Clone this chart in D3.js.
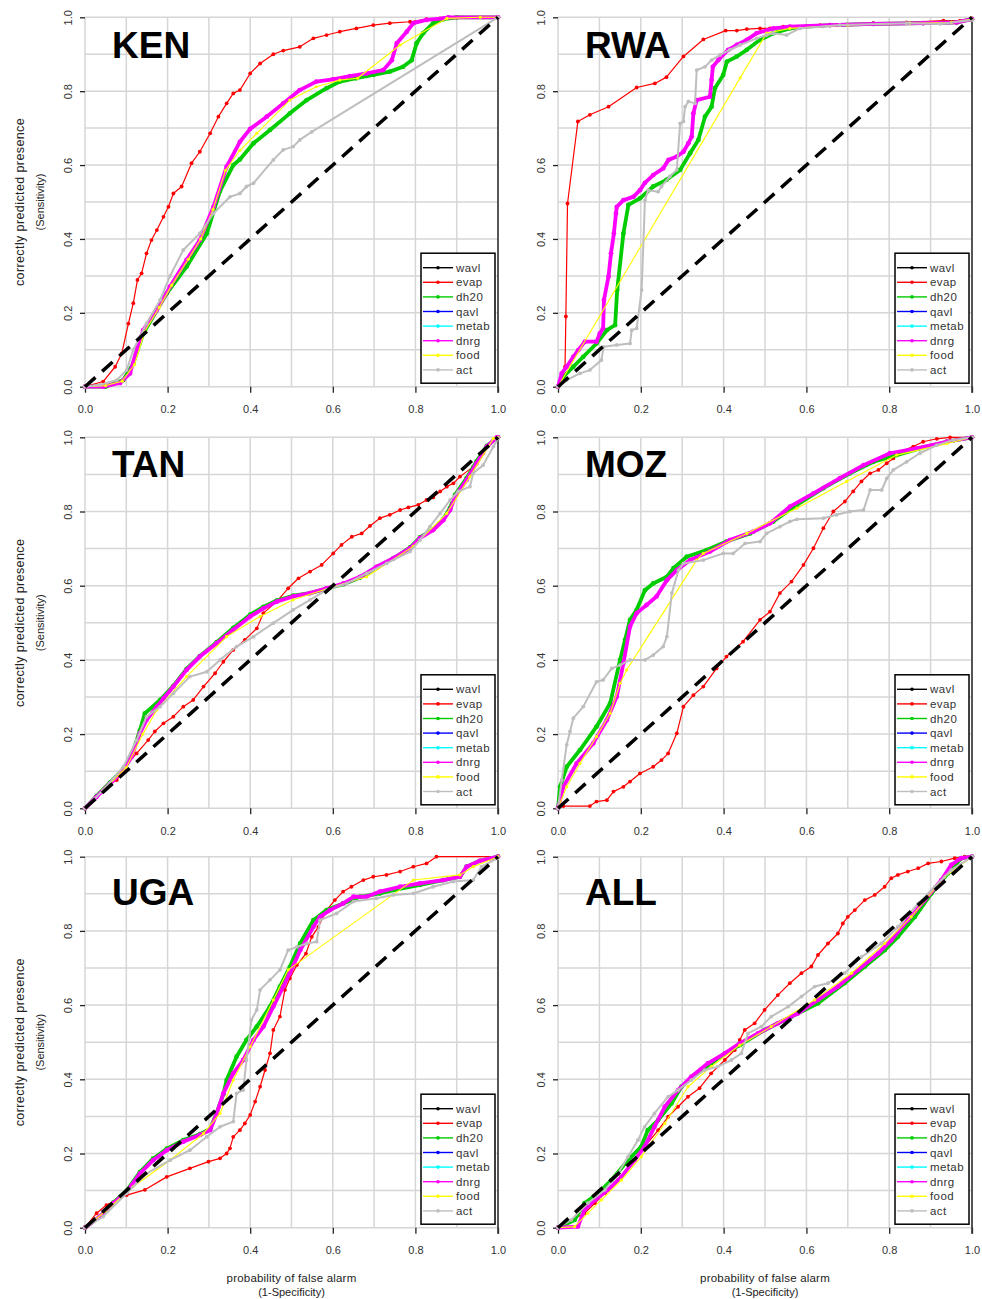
<!DOCTYPE html>
<html>
<head>
<meta charset="utf-8">
<script src="https://cdn.jsdelivr.net/npm/d3@7"></script>
<style>
  body { margin: 0; background: #fff; }
  text { font-family: "Liberation Sans", Arial, sans-serif; }
</style>
</head>
<body>
<svg id="chart" width="982" height="1299"></svg>
<script>
"use strict";

// series in legend / drawing order
var seriesNames = ["wavl", "evap", "dh20", "qavl", "metab", "dnrg", "food", "act"];
var seriesColors = ["#000000", "#ff0000", "#00cd00", "#0000ff", "#00ffff", "#ff00ff", "#ffff00", "#bebebe"];
var tickValues = [0, 0.2, 0.4, 0.6, 0.8, 1.0];
var panelNames = ["KEN", "RWA", "TAN", "MOZ", "UGA", "ALL"];

// ---- KEN ----
var kenEvap = [[0,0],[0.044,0.014],[0.073,0.054],[0.089,0.09],[0.105,0.171],[0.117,0.226],[0.127,0.289],[0.137,0.307],[0.149,0.361],[0.161,0.397],[0.174,0.424],[0.19,0.46],[0.202,0.487],[0.214,0.523],[0.234,0.542],[0.258,0.605],[0.278,0.636],[0.303,0.686],[0.323,0.731],[0.343,0.767],[0.359,0.794],[0.375,0.803],[0.4,0.848],[0.424,0.875],[0.456,0.9],[0.48,0.91],[0.52,0.92],[0.553,0.943],[0.585,0.952],[0.617,0.961],[0.657,0.97],[0.698,0.979],[0.738,0.984],[0.787,0.988],[0.827,0.995],[0.86,0.997],[0.9,1],[1,1]];
var kenDh20 = [[0,0],[0.05,0],[0.093,0.018],[0.117,0.063],[0.141,0.144],[0.198,0.253],[0.246,0.325],[0.295,0.415],[0.327,0.53],[0.359,0.6],[0.375,0.615],[0.408,0.659],[0.448,0.695],[0.496,0.74],[0.537,0.776],[0.585,0.808],[0.617,0.826],[0.657,0.835],[0.698,0.844],[0.738,0.853],[0.77,0.866],[0.791,0.884],[0.803,0.93],[0.819,0.957],[0.843,0.984],[0.868,0.995],[0.9,1],[1,1]];
var kenDnrg = [[0,0],[0.044,0],[0.085,0.01],[0.109,0.036],[0.125,0.1],[0.141,0.153],[0.174,0.208],[0.206,0.271],[0.246,0.343],[0.278,0.397],[0.311,0.487],[0.343,0.596],[0.375,0.663],[0.4,0.698],[0.44,0.731],[0.48,0.767],[0.52,0.803],[0.56,0.826],[0.6,0.832],[0.642,0.841],[0.682,0.848],[0.722,0.857],[0.743,0.884],[0.755,0.93],[0.779,0.961],[0.795,0.984],[0.827,0.993],[0.868,0.997],[0.88,1],[1,1]];
var kenFood = [[0,0],[0.05,0.003],[0.09,0.015],[0.12,0.06],[0.145,0.15],[0.18,0.215],[0.21,0.275],[0.25,0.345],[0.28,0.4],[0.31,0.48],[0.34,0.585],[0.375,0.64],[0.416,0.686],[0.496,0.776],[0.56,0.812],[0.617,0.83],[0.66,0.835],[0.763,0.925],[0.876,0.997],[0.957,1],[1,1]];
var kenAct = [[0,0],[0.036,0.005],[0.077,0.018],[0.101,0.045],[0.117,0.1],[0.149,0.171],[0.182,0.235],[0.206,0.3],[0.238,0.37],[0.278,0.415],[0.311,0.469],[0.351,0.514],[0.375,0.523],[0.391,0.542],[0.408,0.551],[0.456,0.614],[0.48,0.641],[0.504,0.65],[0.52,0.668],[0.549,0.69],[1,1]];

// ---- RWA ----
var rwaEvap = [[0,0],[0.017,0.054],[0.019,0.19],[0.023,0.496],[0.048,0.718],[0.077,0.736],[0.122,0.758],[0.19,0.81],[0.234,0.821],[0.262,0.838],[0.303,0.894],[0.351,0.94],[0.405,0.964],[0.432,0.964],[0.456,0.968],[0.488,0.97],[0.512,0.97],[0.544,0.975],[0.6,0.977],[0.633,0.979],[0.681,0.979],[0.762,0.984],[0.842,0.986],[0.931,0.991],[0.971,0.991],[1,0.997]];
var rwaDh20 = [[0,0],[0.013,0.027],[0.037,0.054],[0.061,0.081],[0.093,0.117],[0.118,0.153],[0.138,0.167],[0.143,0.262],[0.158,0.415],[0.17,0.492],[0.198,0.51],[0.23,0.542],[0.262,0.56],[0.295,0.587],[0.319,0.632],[0.339,0.668],[0.355,0.731],[0.371,0.758],[0.379,0.808],[0.399,0.844],[0.408,0.88],[0.432,0.894],[0.456,0.912],[0.488,0.939],[0.52,0.957],[0.56,0.97],[0.6,0.975],[0.657,0.979],[0.762,0.982],[0.882,0.984],[0.963,0.986],[1,0.995]];
var rwaDnrg = [[0,0],[0.009,0.036],[0.021,0.054],[0.037,0.081],[0.049,0.099],[0.065,0.122],[0.093,0.122],[0.101,0.144],[0.109,0.158],[0.111,0.235],[0.122,0.298],[0.128,0.361],[0.135,0.415],[0.14,0.469],[0.142,0.487],[0.158,0.505],[0.182,0.514],[0.198,0.532],[0.21,0.552],[0.23,0.573],[0.254,0.591],[0.267,0.614],[0.287,0.623],[0.303,0.636],[0.315,0.659],[0.323,0.677],[0.327,0.74],[0.335,0.776],[0.367,0.785],[0.371,0.83],[0.374,0.866],[0.387,0.884],[0.411,0.912],[0.432,0.925],[0.456,0.939],[0.48,0.957],[0.52,0.97],[0.56,0.975],[0.657,0.979],[0.762,0.982],[0.882,0.984],[0.963,0.986],[1,0.995]];
var rwaFood = [[0,0],[0.44,0.836],[0.504,0.957],[0.56,0.97],[0.7,0.979],[0.85,0.984],[0.95,0.986],[1,0.995]];
var rwaAct = [[0,0],[0.021,0.018],[0.053,0.036],[0.077,0.045],[0.105,0.072],[0.11,0.108],[0.142,0.113],[0.174,0.117],[0.178,0.153],[0.19,0.158],[0.202,0.262],[0.21,0.505],[0.218,0.532],[0.242,0.528],[0.25,0.542],[0.27,0.569],[0.287,0.587],[0.295,0.713],[0.303,0.718],[0.307,0.758],[0.315,0.772],[0.331,0.767],[0.335,0.857],[0.355,0.866],[0.371,0.884],[0.391,0.898],[0.415,0.912],[0.44,0.925],[0.48,0.943],[0.504,0.952],[0.52,0.957],[0.552,0.952],[0.584,0.97],[0.681,0.979],[0.842,0.984],[0.923,0.982],[1,0.993]];

// ---- TAN ----
var tanEvap = [[0,0],[0.02,0.022],[0.052,0.058],[0.077,0.076],[0.097,0.112],[0.125,0.148],[0.153,0.184],[0.169,0.207],[0.19,0.229],[0.214,0.247],[0.238,0.274],[0.262,0.292],[0.287,0.328],[0.315,0.364],[0.335,0.395],[0.359,0.427],[0.387,0.454],[0.416,0.485],[0.432,0.526],[0.464,0.557],[0.492,0.593],[0.517,0.62],[0.545,0.638],[0.573,0.656],[0.601,0.687],[0.621,0.71],[0.646,0.732],[0.67,0.741],[0.69,0.761],[0.714,0.782],[0.738,0.791],[0.763,0.804],[0.783,0.811],[0.807,0.818],[0.827,0.831],[0.843,0.838],[0.86,0.854],[0.876,0.867],[0.892,0.876],[0.908,0.894],[0.94,0.921],[0.964,0.957],[0.989,0.993],[1,1]];
var tanDh20 = [[0,0],[0.028,0.033],[0.061,0.07],[0.093,0.106],[0.113,0.142],[0.133,0.21],[0.145,0.256],[0.182,0.292],[0.214,0.33],[0.246,0.376],[0.278,0.41],[0.319,0.448],[0.359,0.486],[0.4,0.522],[0.432,0.543],[0.464,0.56],[0.504,0.573],[0.545,0.58],[0.585,0.592],[0.626,0.604],[0.666,0.622],[0.706,0.65],[0.747,0.674],[0.787,0.703],[0.811,0.73],[0.843,0.752],[0.868,0.78],[0.884,0.81],[0.896,0.845],[0.924,0.89],[0.948,0.935],[0.973,0.977],[1,1]];
var tanDnrg = [[0,0],[0.028,0.031],[0.061,0.067],[0.093,0.103],[0.113,0.139],[0.133,0.202],[0.149,0.238],[0.174,0.274],[0.19,0.296],[0.214,0.328],[0.246,0.373],[0.278,0.409],[0.319,0.445],[0.359,0.481],[0.4,0.517],[0.432,0.539],[0.464,0.557],[0.504,0.571],[0.545,0.58],[0.585,0.593],[0.626,0.606],[0.666,0.624],[0.706,0.651],[0.747,0.674],[0.787,0.701],[0.811,0.728],[0.843,0.75],[0.868,0.777],[0.884,0.804],[0.896,0.84],[0.924,0.885],[0.948,0.93],[0.973,0.975],[0.997,1],[1,1]];
var tanFood = [[0,0],[0.05,0.055],[0.1,0.11],[0.14,0.2],[0.174,0.265],[0.246,0.355],[0.343,0.463],[0.424,0.517],[0.504,0.562],[0.601,0.597],[0.682,0.624],[0.795,0.706],[0.876,0.795],[0.932,0.894],[0.989,0.997],[1,1]];
var tanAct = [[0,0],[0.044,0.049],[0.093,0.112],[0.125,0.184],[0.149,0.247],[0.182,0.274],[0.214,0.31],[0.254,0.355],[0.295,0.368],[0.327,0.4],[0.367,0.436],[0.408,0.463],[0.456,0.499],[0.504,0.535],[0.545,0.562],[0.585,0.589],[0.634,0.606],[0.682,0.633],[0.73,0.66],[0.787,0.692],[0.811,0.723],[0.835,0.759],[0.86,0.795],[0.884,0.831],[0.904,0.854],[0.932,0.867],[0.94,0.903],[0.964,0.925],[0.989,0.975],[1,0.997]];

// ---- MOZ ----
var mozEvap = [[0,0],[0.013,0.006],[0.077,0.006],[0.093,0.018],[0.118,0.022],[0.134,0.045],[0.158,0.058],[0.174,0.072],[0.198,0.094],[0.23,0.112],[0.25,0.13],[0.266,0.148],[0.287,0.202],[0.303,0.274],[0.327,0.305],[0.351,0.328],[0.383,0.377],[0.407,0.409],[0.447,0.449],[0.488,0.508],[0.512,0.53],[0.536,0.58],[0.564,0.611],[0.593,0.656],[0.617,0.701],[0.641,0.755],[0.665,0.8],[0.693,0.827],[0.713,0.854],[0.733,0.881],[0.754,0.903],[0.774,0.912],[0.794,0.93],[0.81,0.943],[0.826,0.961],[0.858,0.975],[0.882,0.988],[0.915,0.996],[0.947,1],[1,1]];
var mozDh20 = [[0,0],[0.005,0.058],[0.021,0.112],[0.053,0.157],[0.093,0.22],[0.126,0.283],[0.15,0.4],[0.162,0.454],[0.174,0.508],[0.19,0.535],[0.21,0.588],[0.23,0.606],[0.263,0.624],[0.279,0.647],[0.311,0.678],[0.359,0.696],[0.407,0.719],[0.464,0.741],[0.52,0.773],[0.577,0.818],[0.641,0.863],[0.705,0.903],[0.762,0.934],[0.818,0.952],[0.874,0.97],[0.939,0.988],[1,1]];
var mozDnrg = [[0,0],[0.013,0.058],[0.045,0.121],[0.085,0.175],[0.118,0.238],[0.142,0.301],[0.158,0.391],[0.174,0.49],[0.19,0.526],[0.214,0.548],[0.238,0.571],[0.263,0.615],[0.287,0.642],[0.319,0.669],[0.367,0.692],[0.415,0.723],[0.472,0.746],[0.512,0.768],[0.56,0.813],[0.617,0.849],[0.681,0.89],[0.738,0.925],[0.802,0.957],[0.866,0.97],[0.939,0.988],[1,1]];
var mozFood = [[0,0],[0.021,0.058],[0.053,0.121],[0.093,0.193],[0.126,0.256],[0.15,0.337],[0.166,0.373],[0.335,0.669],[0.351,0.687],[0.456,0.741],[0.577,0.809],[0.697,0.881],[0.818,0.952],[0.939,0.983],[1,1]];
var mozAct = [[0,0],[0.009,0.076],[0.021,0.171],[0.029,0.207],[0.037,0.243],[0.061,0.274],[0.093,0.341],[0.109,0.346],[0.13,0.377],[0.15,0.386],[0.174,0.4],[0.21,0.4],[0.23,0.413],[0.254,0.436],[0.263,0.463],[0.275,0.58],[0.291,0.642],[0.303,0.66],[0.351,0.669],[0.399,0.687],[0.423,0.687],[0.452,0.714],[0.488,0.719],[0.504,0.741],[0.536,0.759],[0.56,0.773],[0.577,0.779],[0.641,0.782],[0.673,0.791],[0.705,0.8],[0.738,0.804],[0.754,0.858],[0.782,0.858],[0.794,0.889],[0.81,0.912],[0.842,0.934],[0.874,0.957],[0.915,0.979],[0.955,0.993],[1,1]];

// ---- UGA ----
var ugaEvap = [[0,0],[0.028,0.039],[0.052,0.061],[0.101,0.088],[0.145,0.102],[0.198,0.137],[0.254,0.16],[0.299,0.178],[0.327,0.187],[0.343,0.2],[0.351,0.214],[0.359,0.245],[0.375,0.263],[0.387,0.281],[0.4,0.304],[0.412,0.34],[0.424,0.38],[0.436,0.425],[0.448,0.47],[0.456,0.533],[0.472,0.569],[0.484,0.641],[0.496,0.672],[0.513,0.708],[0.535,0.739],[0.549,0.784],[0.565,0.811],[0.585,0.856],[0.605,0.883],[0.625,0.906],[0.645,0.919],[0.674,0.937],[0.698,0.946],[0.73,0.951],[0.763,0.96],[0.795,0.973],[0.827,0.982],[0.851,1],[1,1]];
var ugaDh20 = [[0,0],[0.036,0.03],[0.069,0.068],[0.101,0.1],[0.133,0.15],[0.165,0.186],[0.198,0.213],[0.238,0.236],[0.278,0.252],[0.303,0.266],[0.319,0.31],[0.335,0.36],[0.343,0.398],[0.367,0.461],[0.391,0.506],[0.416,0.542],[0.448,0.596],[0.472,0.65],[0.496,0.703],[0.521,0.766],[0.553,0.829],[0.585,0.856],[0.625,0.874],[0.666,0.892],[0.714,0.901],[0.747,0.91],[0.811,0.924],[0.868,0.937],[0.908,0.946],[0.924,0.973],[0.956,0.989],[1,1]];
var ugaDnrg = [[0,0],[0.036,0.03],[0.069,0.066],[0.101,0.097],[0.133,0.146],[0.165,0.182],[0.198,0.209],[0.238,0.232],[0.278,0.25],[0.303,0.263],[0.319,0.308],[0.335,0.362],[0.359,0.416],[0.383,0.452],[0.408,0.506],[0.432,0.542],[0.456,0.596],[0.48,0.65],[0.496,0.686],[0.521,0.748],[0.553,0.811],[0.569,0.838],[0.593,0.856],[0.625,0.874],[0.65,0.892],[0.682,0.892],[0.714,0.906],[0.763,0.919],[0.811,0.928],[0.868,0.937],[0.908,0.946],[0.924,0.973],[0.956,0.989],[1,1]];
var ugaFood = [[0,0],[0.05,0.045],[0.117,0.111],[0.206,0.182],[0.287,0.254],[0.327,0.308],[0.359,0.398],[0.4,0.488],[0.456,0.614],[0.492,0.695],[0.795,0.937],[0.908,0.951],[0.94,0.973],[1,1]];
var ugaAct = [[0,0],[0.044,0.03],[0.101,0.093],[0.149,0.146],[0.206,0.182],[0.254,0.209],[0.295,0.245],[0.327,0.272],[0.359,0.286],[0.367,0.362],[0.383,0.371],[0.391,0.452],[0.403,0.56],[0.416,0.587],[0.424,0.641],[0.448,0.668],[0.472,0.695],[0.492,0.748],[0.513,0.757],[0.537,0.766],[0.561,0.771],[0.569,0.829],[0.609,0.847],[0.65,0.879],[0.706,0.888],[0.747,0.897],[0.795,0.901],[0.843,0.919],[0.892,0.933],[0.94,0.937],[0.96,0.973],[1,0.996]];

// ---- ALL ----
var allEvap = [[0,0],[0.016,0.012],[0.04,0.025],[0.064,0.039],[0.089,0.066],[0.113,0.093],[0.145,0.128],[0.177,0.173],[0.209,0.218],[0.242,0.263],[0.266,0.299],[0.29,0.326],[0.314,0.353],[0.342,0.376],[0.37,0.416],[0.403,0.452],[0.427,0.479],[0.439,0.506],[0.451,0.533],[0.475,0.551],[0.499,0.587],[0.531,0.627],[0.56,0.659],[0.588,0.686],[0.612,0.704],[0.628,0.735],[0.652,0.766],[0.676,0.793],[0.688,0.82],[0.7,0.838],[0.717,0.856],[0.741,0.883],[0.765,0.897],[0.789,0.919],[0.805,0.942],[0.821,0.951],[0.845,0.96],[0.87,0.969],[0.894,0.982],[0.926,0.987],[0.958,0.996],[0.982,1],[1,1]];
var allDh20 = [[0,0],[0.04,0.021],[0.064,0.066],[0.097,0.093],[0.129,0.128],[0.169,0.182],[0.201,0.218],[0.217,0.263],[0.242,0.29],[0.274,0.335],[0.298,0.38],[0.33,0.412],[0.37,0.443],[0.403,0.47],[0.439,0.492],[0.499,0.533],[0.564,0.569],[0.628,0.605],[0.692,0.659],[0.741,0.704],[0.789,0.748],[0.821,0.784],[0.862,0.838],[0.902,0.901],[0.942,0.955],[0.974,0.996],[1,1]];
var allDnrg = [[0,0],[0.048,0.003],[0.064,0.048],[0.089,0.075],[0.121,0.102],[0.153,0.137],[0.185,0.182],[0.209,0.218],[0.233,0.272],[0.258,0.326],[0.29,0.371],[0.322,0.407],[0.362,0.443],[0.403,0.47],[0.439,0.497],[0.483,0.524],[0.531,0.551],[0.58,0.578],[0.628,0.614],[0.676,0.65],[0.725,0.695],[0.773,0.739],[0.805,0.775],[0.845,0.829],[0.886,0.883],[0.926,0.937],[0.95,0.978],[0.974,0.996],[1,1]];
var allFood = [[0,0],[0.04,0.003],[0.072,0.039],[0.105,0.075],[0.153,0.128],[0.201,0.191],[0.258,0.281],[0.314,0.38],[0.37,0.434],[0.439,0.492],[0.515,0.542],[0.62,0.614],[0.709,0.686],[0.789,0.766],[0.853,0.838],[0.934,0.946],[1,1]];
var allAct = [[0,0],[0.032,0.021],[0.072,0.066],[0.113,0.102],[0.145,0.146],[0.169,0.191],[0.193,0.236],[0.209,0.272],[0.233,0.308],[0.266,0.353],[0.29,0.371],[0.322,0.398],[0.354,0.425],[0.386,0.434],[0.419,0.452],[0.443,0.47],[0.459,0.524],[0.491,0.542],[0.515,0.569],[0.556,0.596],[0.588,0.623],[0.62,0.65],[0.652,0.659],[0.692,0.686],[0.733,0.73],[0.781,0.766],[0.821,0.811],[0.87,0.874],[0.91,0.919],[0.95,0.964],[1,1]];

// wavl, qavl and metab lie exactly under dnrg in every panel
var panelSeries = [
    { wavl: kenDnrg, evap: kenEvap, dh20: kenDh20, qavl: kenDnrg, metab: kenDnrg, dnrg: kenDnrg, food: kenFood, act: kenAct },
    { wavl: rwaDnrg, evap: rwaEvap, dh20: rwaDh20, qavl: rwaDnrg, metab: rwaDnrg, dnrg: rwaDnrg, food: rwaFood, act: rwaAct },
    { wavl: tanDnrg, evap: tanEvap, dh20: tanDh20, qavl: tanDnrg, metab: tanDnrg, dnrg: tanDnrg, food: tanFood, act: tanAct },
    { wavl: mozDnrg, evap: mozEvap, dh20: mozDh20, qavl: mozDnrg, metab: mozDnrg, dnrg: mozDnrg, food: mozFood, act: mozAct },
    { wavl: ugaDnrg, evap: ugaEvap, dh20: ugaDh20, qavl: ugaDnrg, metab: ugaDnrg, dnrg: ugaDnrg, food: ugaFood, act: ugaAct },
    { wavl: allDnrg, evap: allEvap, dh20: allDh20, qavl: allDnrg, metab: allDnrg, dnrg: allDnrg, food: allFood, act: allAct }
];

// line width / marker radius per series
var lineStyle = {
    wavl: [1, 1.5], evap: [1.2, 1.9], dh20: [3.8, 2.4], qavl: [1, 1.5],
    metab: [1, 1.5], dnrg: [3.8, 2.4], food: [1.1, 1.6], act: [2, 1.9]
};

// panel frames (pixels)
var colX = [[85, 498], [558, 972]];
var rowY = [[386.7, 17.3], [808.3, 437.3], [1227.7, 856.7]];
var titleOffset = [41, 40, 48];

var svg = d3.select("#chart");
var fmt = d3.format(".1f");

panelNames.forEach(function(name, i) {
    var col = i % 2, row = Math.floor(i / 2);
    var x = d3.scaleLinear().domain([0, 1]).range(colX[col]);
    var y = d3.scaleLinear().domain([0, 1]).range(rowY[row]);
    var g = svg.append("g");

    // grid
    var grid = d3.range(0, 11).map(function(k) { return k / 10; });
    g.selectAll(".gx").data(grid).enter().append("line")
        .attr("x1", function(d) { return x(d); }).attr("x2", function(d) { return x(d); })
        .attr("y1", y(0)).attr("y2", y(1))
        .attr("stroke", "#d6d6d6").attr("stroke-width", 1.5);
    g.selectAll(".gy").data(grid).enter().append("line")
        .attr("y1", function(d) { return y(d); }).attr("y2", function(d) { return y(d); })
        .attr("x1", x(0)).attr("x2", x(1))
        .attr("stroke", "#d6d6d6").attr("stroke-width", 1.5);

    // bottom axis
    var xa = g.append("g").attr("transform", "translate(0," + y(0) + ")")
        .call(d3.axisBottom(x).tickValues(tickValues).tickFormat(fmt).tickSize(6).tickPadding(13));
    xa.select(".domain").remove();
    xa.selectAll("line").attr("stroke", "#222").attr("stroke-width", 1.3);
    xa.selectAll("text").attr("font-size", 11).attr("fill", "#333")
        .attr("font-family", "Liberation Sans, Arial, sans-serif");

    // left axis, labels turned
    var ya = g.append("g").attr("transform", "translate(" + x(0) + ",0)")
        .call(d3.axisLeft(y).tickValues(tickValues).tickFormat(fmt).tickSize(5));
    ya.select(".domain").remove();
    ya.selectAll("line").attr("stroke", "#222").attr("stroke-width", 1.3);
    ya.selectAll("text").attr("transform", "rotate(-90)")
        .attr("x", 0).attr("y", -17).attr("dy", "0.35em")
        .attr("text-anchor", "middle")
        .attr("font-size", 11).attr("fill", "#333")
        .attr("font-family", "Liberation Sans, Arial, sans-serif");

    // right frame line
    g.append("line")
        .attr("x1", x(1)).attr("x2", x(1)).attr("y1", y(1)).attr("y2", y(0) + 6)
        .attr("stroke", "#333").attr("stroke-width", 1.6);

    // curves
    var line = d3.line().x(function(d) { return x(d[0]); }).y(function(d) { return y(d[1]); });
    seriesNames.forEach(function(s, k) {
        var pts = panelSeries[i][s];
        g.append("path").datum(pts).attr("d", line)
            .attr("fill", "none").attr("stroke", seriesColors[k])
            .attr("stroke-width", lineStyle[s][0]).attr("stroke-linejoin", "round");
        g.selectAll(".m" + s).data(pts).enter().append("circle")
            .attr("cx", function(d) { return x(d[0]); })
            .attr("cy", function(d) { return y(d[1]); })
            .attr("r", lineStyle[s][1]).attr("fill", seriesColors[k]);
    });

    // reference diagonal
    g.append("line")
        .attr("x1", x(0)).attr("y1", y(0)).attr("x2", x(1)).attr("y2", y(1))
        .attr("stroke", "#000").attr("stroke-width", 3.5).attr("stroke-dasharray", "14,9");

    // title
    g.append("text").attr("x", x(0) + 27).attr("y", y(1) + titleOffset[row])
        .attr("font-family", "Lato, 'Open Sans', sans-serif").attr("font-weight", 700)
        .attr("font-size", 37).attr("fill", "#000").text(name);

    // legend
    var lw = 74, lh = 130;
    var lx = x(1) - 3 - lw, ly = y(0) - 3.5 - lh;
    var lg = g.append("g").attr("transform", "translate(" + lx + "," + ly + ")");
    lg.append("rect").attr("width", lw).attr("height", lh)
        .attr("fill", "#fff").attr("stroke", "#000").attr("stroke-width", 1.5);
    seriesNames.forEach(function(s, k) {
        var yy = 14.5 + k * 14.6;
        lg.append("line").attr("x1", 2).attr("x2", 32).attr("y1", yy).attr("y2", yy)
            .attr("stroke", seriesColors[k]).attr("stroke-width", 1.4);
        lg.append("circle").attr("cx", 17).attr("cy", yy).attr("r", 1.8).attr("fill", seriesColors[k]);
        lg.append("text").attr("x", 35).attr("y", yy).attr("dy", "0.35em")
            .attr("font-size", 11.5).attr("letter-spacing", 0.4).attr("fill", "#333").text(s);
    });

    // y-axis title on the left column
    if (col === 0) {
        var cy = (rowY[row][0] + rowY[row][1]) / 2;
        svg.append("text").attr("transform", "translate(20," + cy + ") rotate(-90)")
            .attr("text-anchor", "middle").attr("dy", "0.35em")
            .attr("font-size", 12.5).attr("letter-spacing", 0.4)
            .attr("fill", "#222").text("correctly predicted presence");
        svg.append("text").attr("transform", "translate(40," + cy + ") rotate(-90)")
            .attr("text-anchor", "middle").attr("dy", "0.35em")
            .attr("font-size", 11).attr("fill", "#222").text("(Sensitivity)");
    }

    // x-axis title on the bottom row
    if (row === 2) {
        var cx = (colX[col][0] + colX[col][1]) / 2;
        svg.append("text").attr("x", cx).attr("y", 1282).attr("text-anchor", "middle")
            .attr("font-size", 11.5).attr("letter-spacing", 0.2)
            .attr("fill", "#222").text("probability of false alarm");
        svg.append("text").attr("x", cx).attr("y", 1296).attr("text-anchor", "middle")
            .attr("font-size", 11).attr("fill", "#222").text("(1-Specificity)");
    }
});
</script>
</body>
</html>
